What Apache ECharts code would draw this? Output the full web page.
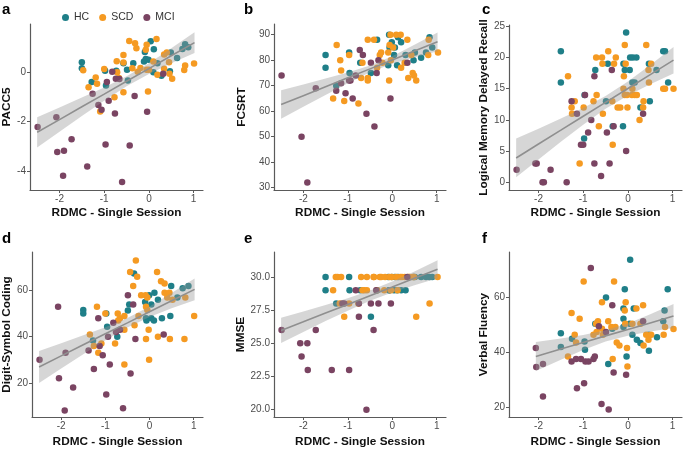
<!DOCTYPE html>
<html><head><meta charset="utf-8">
<script src="https://cdn.jsdelivr.net/npm/echarts@6/dist/echarts.min.js"></script>
<style>html,body{margin:0;padding:0;background:#fff}#c{width:683px;height:449px}</style>
</head><body><div id="c"></div>
<script>
const groups = ['HC', 'SCD', 'MCI'];
const groupColors = ['#1f7f88', '#f59a22', '#7a4462'];
const xTitle = 'RDMC - Single Session';
const xTicks = [-2, -1, 0, 1];

// ---------- panel a: PACC5 ----------
const aTicks = [-4, -2, 0];
const aHC = [[-1.5,0.40],[-1.5,0.15],[-1.28,-0.40],[-0.98,0.05],[-0.96,-0.54],[-0.73,0.05],[-0.57,0.36],[-0.49,0.09],[-0.47,-0.34],[-0.35,0.36],[-0.09,0.81],[-0.11,0.43],[-0.07,0.53],[-0.01,0.50],[0.04,1.24],[0.11,0.92],[0.10,-0.01],[0.19,0.36],[0.28,-0.15],[0.49,0.79],[0.47,0.03],[0.63,0.57],[0.81,1.12],[0.88,1.0],[0.75,0.93]];
const aSCD = [[-1.47,0.07],[-1.35,-0.61],[-1.19,-0.22],[-1.16,-0.47],[-1.09,-1.59],[-1.0,0.12],[-0.77,-1.02],[-0.72,0.44],[-0.71,-0.01],[-0.67,-0.24],[-0.57,0.69],[-0.57,0.39],[-0.57,-0.81],[-0.44,1.25],[-0.31,1.16],[-0.28,0.96],[-0.37,0.15],[-0.25,0.01],[-0.19,0.16],[-0.07,0.90],[-0.05,1.10],[-0.02,-0.78],[-0.05,0.09],[0.0,0.09],[0.10,0.43],[0.17,1.33],[0.19,-0.11],[0.34,0.71],[0.40,0.79],[0.34,0.13],[0.45,0.40],[0.46,-0.07],[0.52,-0.27],[0.79,0.08],[0.81,0.26],[1.01,0.35]];
const aMCI = [[-2.49,-2.22],[-2.07,-1.82],[-2.05,-3.23],[-1.90,-3.18],[-1.92,-4.18],[-1.73,-2.71],[-1.38,-3.81],[-1.26,-0.88],[-1.13,-1.33],[-1.06,-1.52],[-0.97,-2.92],[-0.94,-0.40],[-0.90,-1.16],[-0.82,0.01],[-0.76,-1.67],[-0.74,-0.27],[-0.66,-0.28],[-0.60,-4.44],[-0.43,-2.96],[-0.32,-0.97],[-0.04,-1.60],[0.32,-0.07]];
// fit: [x, fitted, lower, upper]
const aFit = [[-2.5,-2.43,-3.04,-1.82],[-2,-1.92,-2.41,-1.43],[-1.5,-1.40,-1.77,-1.03],[-1,-0.89,-1.16,-0.62],[-0.5,-0.37,-0.57,-0.17],[0,0.14,-0.08,0.36],[0.5,0.66,0.36,0.96],[1.02,1.19,0.77,1.61]];

// ---------- panel b: FCSRT ----------
const bTicks = [30, 40, 50, 60, 70, 80, 90];
const bHC = [[-1.50,82],[-1.50,77],[-1.26,70],[-0.97,83],[-0.96,75],[-0.72,79],[-0.48,75],[-0.34,88],[-0.07,90],[-0.06,85],[-0.09,78],[-0.01,87],[0.04,82],[0.06,85],[0.11,78],[0.13,89],[0.20,87],[0.30,82],[0.48,80],[0.51,83],[0.65,81],[0.76,83],[0.84,89],[0.90,85]];
const bSCD = [[-1.33,65],[-1.25,86],[-1.17,80],[-1.15,76],[-1.08,64],[-0.97,82],[-0.76,63],[-0.70,73],[-0.67,79],[-0.55,88],[-0.55,73],[-0.55,72],[-0.41,88],[-0.34,77],[-0.28,82],[-0.25,83],[-0.22,79],[-0.07,72],[-0.09,83],[-0.06,86],[-0.04,90],[-0.03,80],[0.02,85],[0.09,90],[0.19,90],[0.20,77],[0.28,79],[0.34,88],[0.36,73],[0.43,82],[0.46,75],[0.49,74],[0.54,72],[0.81,82],[0.82,88],[1.03,83]];
const bMCI = [[-2.49,74],[-2.04,50],[-1.91,32],[-1.72,69],[-1.26,68],[-1.15,71],[-1.05,67],[-0.97,72],[-0.94,72],[-0.89,65],[-0.82,74],[-0.73,84],[-0.66,82],[-0.58,59],[-0.48,79],[-0.40,54],[-0.35,75],[-0.31,80],[-0.04,65],[0.34,79]];
const bFit = [[-2.5,62.6,57.0,68.2],[-2,66.1,61.7,70.5],[-1.5,69.6,66.4,72.8],[-1,73.1,71.0,75.2],[-0.5,76.6,75.3,77.9],[0,80.1,78.6,81.6],[0.5,83.6,81.1,86.1],[1.02,87.2,83.5,90.9]];

// ---------- panel c: Logical Memory Delayed Recall ----------
const cTicks = [0, 5, 10, 15, 20, 25];
const cHC = [[-1.50,21],[-1.50,16],[-0.98,7],[-0.97,14],[-0.73,18],[-0.49,13],[-0.45,19],[-0.34,9],[-0.11,9],[-0.10,19],[-0.07,18],[-0.04,24],[0.04,18],[0.05,20],[0.11,20],[0.10,16],[0.15,16],[0.19,20],[0.28,12],[0.47,19],[0.49,13],[0.64,18],[0.79,21],[0.83,21],[0.90,16]];
const cSCD = [[-1.34,17],[-1.26,12],[-1.19,13],[-1.25,11],[-1.08,3],[-0.99,12],[-0.77,13],[-0.71,20],[-0.70,14],[-0.65,9],[-0.58,20],[-0.57,19],[-0.56,11],[-0.44,21],[-0.35,13],[-0.34,6],[-0.31,19],[-0.27,20],[-0.23,12],[-0.17,12],[-0.10,15],[-0.09,17],[-0.07,22],[-0.05,19],[-0.07,14],[-0.02,14],[-0.01,12],[0.09,14],[0.10,15],[0.15,14],[0.20,14],[0.26,10],[0.34,12],[0.35,13],[0.41,22],[0.46,18],[0.47,16],[0.52,19],[0.79,15],[0.83,15],[1.02,15]];
const cMCI = [[-2.49,2],[-2.07,3],[-2.04,3],[-1.91,0],[-1.88,0],[-1.73,2],[-1.37,0],[-1.26,13],[-1.14,11],[-1.05,6],[-1.00,6],[-0.96,14],[-0.89,8],[-0.82,10],[-0.75,3],[-0.75,17],[-0.60,1],[-0.47,8],[-0.41,3],[-0.36,18],[-0.32,9],[-0.04,5],[0.34,11]];
const cFit = [[-2.5,3.90,0.8,7.0],[-2,6.13,3.67,8.59],[-1.5,8.35,6.49,10.21],[-1,10.58,9.24,11.92],[-0.5,12.8,11.78,13.82],[0,15.03,13.92,16.14],[0.5,17.25,15.72,18.78],[1.02,19.57,17.45,21.69]];

// ---------- panel d: Digit-Symbol Coding ----------
const dTicks = [20, 40, 60];
const dHC = [[-1.50,51.6],[-1.50,50],[-1.28,38.3],[-0.98,50],[-0.96,44.3],[-0.73,40],[-0.49,51.3],[-0.46,54],[-0.35,67.4],[-0.10,55],[-0.08,48],[-0.07,47],[-0.01,58],[0.04,54],[0.04,48],[0.11,59],[0.10,47],[0.19,56],[0.28,48],[0.49,62],[0.47,49],[0.63,57],[0.75,61],[0.88,62]];
const dSCD = [[-1.35,41],[-1.19,53],[-1.26,36],[-1.16,33],[-1.09,37],[-1.0,50],[-0.78,37],[-0.72,50],[-0.71,47],[-0.67,48],[-0.57,49],[-0.57,43],[-0.57,28],[-0.44,68],[-0.37,62],[-0.34,45],[-0.31,73],[-0.28,66],[-0.25,49],[-0.19,58],[-0.09,58],[-0.08,53],[-0.08,39],[-0.05,57],[-0.05,51.6],[-0.02,43],[-0.01,30],[0.17,68],[0.19,40],[0.26,64],[0.34,63],[0.34,59],[0.40,57],[0.45,59],[0.46,39],[0.52,56],[0.79,39],[0.81,57],[1.01,49]];
const dMCI = [[-2.49,30],[-2.07,53],[-2.05,22],[-1.90,33],[-1.92,8],[-1.73,18],[-1.38,34],[-1.26,26],[-1.16,48],[-1.13,36],[-1.06,32],[-0.98,15],[-0.94,40],[-0.90,28],[-0.82,46],[-0.76,42],[-0.67,43],[-0.60,9],[-0.49,58],[-0.43,24],[-0.37,54],[-0.32,39],[0.32,41]];
const dFit = [[-2.5,26.9,19.95,33.85],[-2,31.7,26.2,37.2],[-1.5,36.5,32.4,40.6],[-1,41.3,38.5,44.1],[-0.5,46.0,43.95,48.05],[0,50.8,48.5,53.1],[0.5,55.6,52.3,58.9],[1.02,60.5,55.8,65.2]];

// ---------- panel e: MMSE ----------
const eTicks = [20, 22.5, 25, 27.5, 30];
const eHC = [[-1.50,30],[-1.50,29],[-1.26,28],[-0.97,30],[-0.96,29],[-0.72,29],[-0.48,27],[-0.34,29],[-0.07,29],[-0.06,29],[-0.09,30],[-0.01,30],[0.04,29],[0.06,30],[0.11,29],[0.13,30],[0.20,29],[0.30,29],[0.48,30],[0.51,30],[0.65,30],[0.76,30],[0.84,30],[0.90,30]];
const eSCD = [[-1.27,30],[-1.23,30],[-1.15,30],[-0.70,30],[-0.57,30],[-0.42,30],[-0.28,30],[-0.25,30],[-0.16,30],[-0.06,30],[-0.01,30],[0.18,30],[0.22,30],[0.28,30],[0.39,30],[0.49,30],[1.02,30],[-0.41,30],[0.09,30],[0.36,30],[0.46,30],[-1.33,29],[-0.67,29],[-0.63,29],[-0.57,29],[-0.34,29],[-0.18,29],[-0.03,29],[0.12,29],[-1.18,28],[-0.97,28],[-0.76,28],[0.84,28],[-1.08,27],[0.54,27]];
const eMCI = [[-2.49,26],[-2.07,25],[-2.04,24],[-1.91,25],[-1.90,23],[-1.72,26],[-1.36,23],[-1.12,28],[-1.08,28],[-0.97,23],[-0.82,29],[-0.75,27],[-0.75,28],[-0.58,20],[-0.48,28],[-0.42,26],[-0.31,28],[-0.36,29],[-0.03,28],[0.34,30]];
const eFit = [[-2.5,25.97,25.02,26.92],[-2,26.62,25.85,27.39],[-1.5,27.28,26.68,27.88],[-1,27.93,27.46,28.40],[-0.5,28.59,28.20,28.98],[0,29.24,28.83,29.65],[0.5,29.90,29.38,30.42],[1.02,30.58,29.90,31.26]];

// ---------- panel f: Verbal Fluency ----------
const fTicks = [20, 40, 60];
const fHC = [[-1.50,47],[-1.50,42],[-1.25,45],[-0.97,44],[-0.96,41],[-0.73,50.4],[-0.49,60],[-0.44,35.8],[-0.35,48.6],[-0.10,49.2],[-0.10,52.2],[-0.10,56],[-0.07,63],[-0.03,38.5],[0.04,50.4],[0.05,73.7],[0.10,46.4],[0.13,56],[0.20,44.6],[0.28,43.4],[0.47,40.6],[0.47,46.4],[0.65,45.5],[0.79,51.3],[0.82,55.2],[0.89,63]];
const fSCD = [[-1.34,38.5],[-1.26,54.3],[-1.19,46.4],[-1.16,43.6],[-1.08,52.2],[-0.99,65.8],[-0.77,46.4],[-0.71,50.4],[-0.70,47.4],[-0.67,51.3],[-0.58,48.6],[-0.58,58.2],[-0.56,46.4],[-0.44,51.3],[-0.37,49.2],[-0.34,37.6],[-0.31,65.8],[-0.28,49.2],[-0.25,43.6],[-0.19,42.5],[-0.07,55.2],[-0.05,58.2],[-0.06,50.4],[-0.02,41.6],[-0.01,34.9],[0.10,50.4],[0.19,56],[0.28,50.4],[0.34,57.1],[0.35,42.5],[0.41,46.4],[0.46,44.6],[0.52,46.4],[0.80,46.4],[0.83,49.2],[1.02,48.5]];
const fMCI = [[-2.06,41.6],[-2.05,34.7],[-1.90,35.8],[-1.90,24],[-1.26,36.7],[-1.14,27],[-1.16,37.6],[-1.05,37.6],[-0.98,28.8],[-0.95,36.7],[-0.88,36.7],[-0.83,70.7],[-0.77,37.6],[-0.74,38.5],[-0.65,49.5],[-0.59,21.2],[-0.49,47.4],[-0.43,19.2],[-0.35,57.1],[-0.32,32.7],[-0.04,31.9],[0.34,51.3]];
const fFit = [[-2.06,38.5,33.25,43.75],[-1.5,41.2,37.36,45.04],[-1,43.6,40.88,46.32],[-0.5,46.0,43.96,48.04],[0,48.3,46.07,50.53],[0.5,50.7,47.56,53.84],[1.02,53.2,48.85,57.55]];

// ---------- layout (positions / styles) ----------
const panels = [
  {letter:'a', title:'PACC5', groups:[aHC,aSCD,aMCI], fit:aFit, ticks:aTicks, ymin:-4.76, ymax:1.94,
   grid:{left:30, top:24, width:173, height:166}, nameGap:11, lx:2, ly:15, xGap:17},
  {letter:'b', title:'FCSRT', groups:[bHC,bSCD,bMCI], fit:bFit, ticks:bTicks, ymin:29.1, ymax:94.2,
   grid:{left:274, top:24, width:172, height:166}, nameGap:26, lx:244, ly:15, xGap:17},
  {letter:'c', title:'Logical Memory Delayed Recall', groups:[cHC,cSCD,cMCI], fit:cFit, ticks:cTicks, ymin:-1.23, ymax:25.2,
   grid:{left:509, top:25, width:173, height:165}, nameGap:14, lx:482, ly:15, xGap:17},
  {letter:'d', title:'Digit-Symbol Coding', groups:[dHC,dSCD,dMCI], fit:dFit, ticks:dTicks, ymin:5.2, ymax:76.7,
   grid:{left:30, top:252, width:173, height:165}, nameGap:15, lx:2, ly:244, xGap:19},
  {letter:'e', title:'MMSE', groups:[eHC,eSCD,eMCI], fit:eFit, ticks:eTicks, ymin:19.45, ymax:31.88,
   grid:{left:274, top:252, width:172, height:165}, nameGap:23, lx:244, ly:244, xGap:19, dec:1},
  {letter:'f', title:'Verbal Fluency', groups:[fHC,fSCD,fMCI], fit:fFit, ticks:fTicks, ymin:16.5, ymax:76.5,
   grid:{left:509, top:252, width:173, height:165}, nameGap:13, lx:482, ly:244, xGap:19}
];

const FONT = 'Liberation Sans, Arial, Helvetica, sans-serif';
const axisCol = '#5a5a5a';
const grids = [], xAxes = [], yAxes = [], series = [], graphics = [];

panels.forEach((p, i) => {
  grids.push(Object.assign({containLabel:false}, p.grid));
  xAxes.push({
    type:'value', gridIndex:i, min:-2.66, max:1.21,
    name:xTitle, nameLocation:'middle', nameGap:p.xGap,
    nameTextStyle:{fontFamily:FONT, fontWeight:'bold', fontSize:11.8, color:'#111'},
    axisLine:{show:true, onZero:false, lineStyle:{color:axisCol, width:1.2}},
    axisTick:{show:true, length:3, lineStyle:{color:axisCol}, customValues:xTicks},
    axisLabel:{show:true, margin:4, fontFamily:FONT, fontSize:10, color:'#4d4d4d', customValues:xTicks},
    splitLine:{show:false}
  });
  yAxes.push({
    type:'value', gridIndex:i, min:p.ymin, max:p.ymax,
    name:p.title, nameLocation:'middle', nameGap:p.nameGap,
    nameTextStyle:{fontFamily:FONT, fontWeight:'bold', fontSize:11.8, color:'#111'},
    axisLine:{show:true, onZero:false, lineStyle:{color:axisCol, width:1.2}},
    axisTick:{show:true, length:3, lineStyle:{color:axisCol}, customValues:p.ticks},
    axisLabel:{show:true, margin:4, fontFamily:FONT, fontSize:10, color:'#4d4d4d', customValues:p.ticks,
      formatter: v => p.dec ? Number(v).toFixed(p.dec) : String(v)},
    splitLine:{show:false}
  });
  p.groups.forEach((g, k) => {
    series.push({
      type:'scatter', name:groups[k], xAxisIndex:i, yAxisIndex:i, data:g,
      symbolSize:6.5, itemStyle:{color:groupColors[k], opacity:1}, z:2, silent:true
    });
  });
  const fit = p.fit;
  series.push({
    type:'custom', xAxisIndex:i, yAxisIndex:i, z:3, silent:true,
    data: fit.map(r => [r[0], r[1]]),
    renderItem: (params, api) => {
      if (params.dataIndex !== 0) return null;
      const upper = fit.map(r => api.coord([r[0], r[3]]));
      const lower = fit.slice().reverse().map(r => api.coord([r[0], r[2]]));
      return {type:'polygon', shape:{points: upper.concat(lower)},
              style:{fill:'rgba(153,153,153,0.4)', stroke:null}};
    }
  });
  series.push({
    type:'line', xAxisIndex:i, yAxisIndex:i, z:4, silent:true,
    data: fit.map(r => [r[0], r[1]]), showSymbol:false, symbol:'none',
    lineStyle:{color:'#8f8f8f', width:1.6}
  });
  graphics.push({type:'text', left:p.lx, top:p.ly - 13,
    style:{text:p.letter, font:'bold 15px ' + FONT, fill:'#000'}});
});

const chart = echarts.init(document.getElementById('c'), null, {renderer:'canvas'});
chart.setOption({
  animation:false,
  backgroundColor:'#fff',
  grid:grids, xAxis:xAxes, yAxis:yAxes, series:series,
  legend:{data:groups, left:57, top:7, icon:'circle', itemWidth:7, itemHeight:7, itemGap:10,
    textStyle:{fontFamily:FONT, fontSize:10.5, color:'#333'}},
  graphic:graphics
});
</script></body></html>
